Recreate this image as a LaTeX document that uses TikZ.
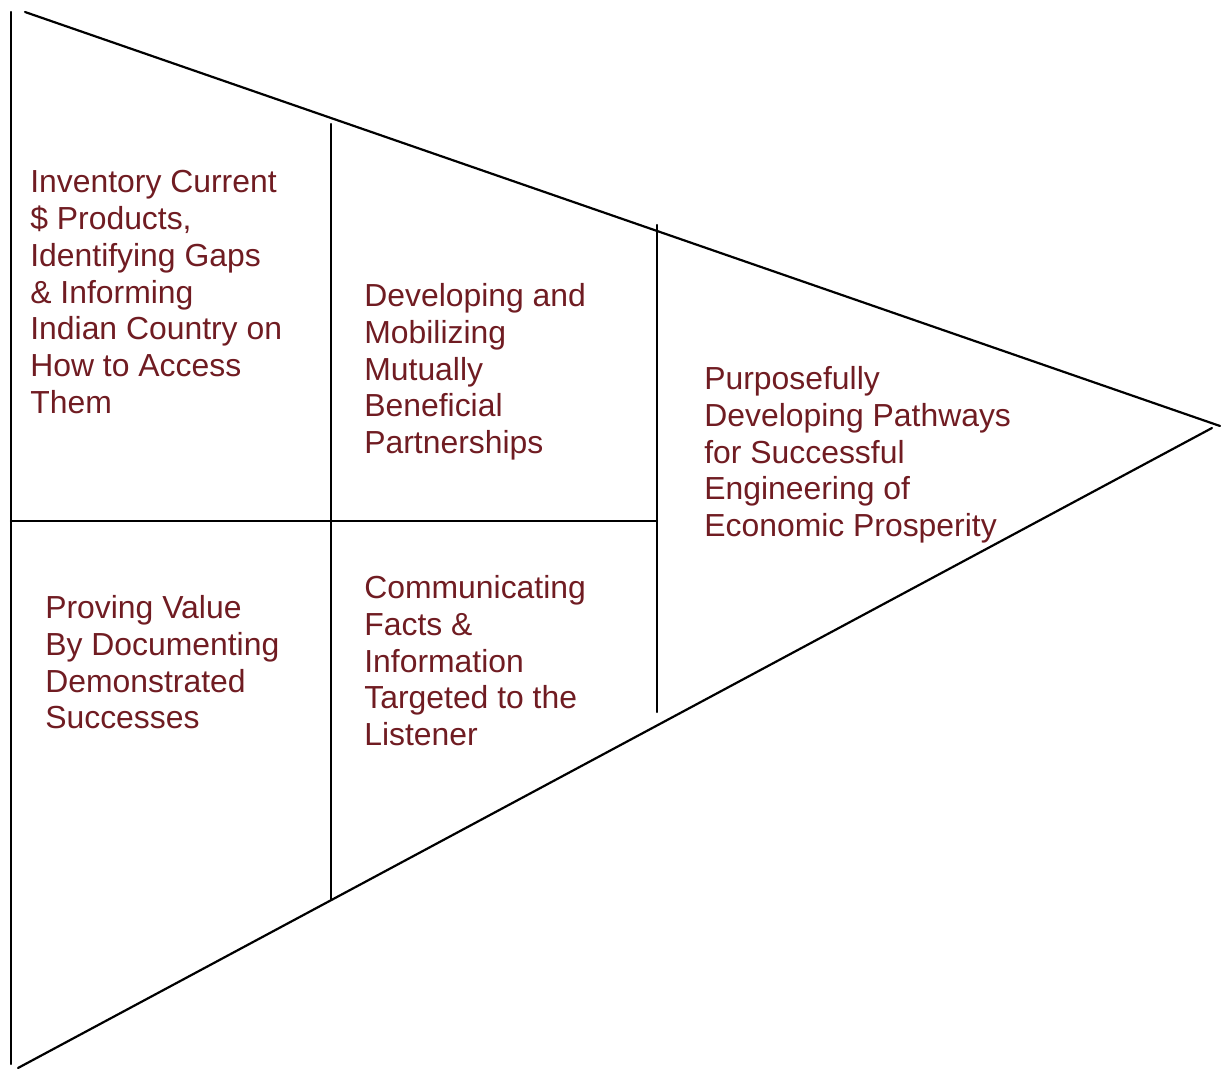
\documentclass[tikz,border=0pt]{standalone}
\usepackage{fontspec}
\setmainfont{Liberation Sans}
\definecolor{darkwine}{RGB}{112,28,34}

\begin{document}
\begin{tikzpicture}[x=0.02cm, y=-0.02cm, line cap=round, line join=round, font=\fontsize{18.15}{20.95}\selectfont]
	\tikzset{
	edge/.style={black, line width=1.25pt},
	blocktext/.style={anchor=north west, inner sep=0pt, align=left, text=darkwine}
	}
	\useasboundingbox (0,0) rectangle (1221,1070);
	% outline of the wedge
	\coordinate (leftTop) at (11,12);
	\coordinate (leftBot) at (11,1064);
	\coordinate (upStart) at (25,12);
	\coordinate (tip) at (1220,426);
	\coordinate (lowStart) at (18,1068);
	\coordinate (lowEnd) at (1212,428);
	% inner dividers
	\coordinate (divAtop) at (331,124);
	\coordinate (divAbot) at (331,900);
	\coordinate (divBtop) at (657,225);
	\coordinate (divBbot) at (657,712);
	\coordinate (midL) at (11,521);
	\coordinate (midR) at (657,521);
	\draw[edge] (leftTop) -- (leftBot);
	\draw[edge] (upStart) -- (tip);
	\draw[edge] (lowStart) -- (lowEnd);
	\draw[edge] (divAtop) -- (divAbot);
	\draw[edge] (divBtop) -- (divBbot);
	\draw[edge] (midL) -- (midR);
	% the five blocks
	\node[blocktext] (inventory) at (30,170) {Inventory Current\\\$ Products,\\Identifying Gaps\\\& Informing\\Indian Country on\\How to Access\\Them};
	\node[blocktext] (partners) at (364,283) {Developing and\\Mobilizing\\Mutually\\Beneficial\\Partnerships};
	\node[blocktext] (pathways) at (704,366) {Purposefully\\Developing Pathways\\for Successful\\Engineering of\\Economic Prosperity};
	\node[blocktext] (proving) at (45,595) {Proving Value\\By Documenting\\Demonstrated\\Successes};
	\node[blocktext] (facts) at (364,575) {Communicating\\Facts \&\\Information\\Targeted to the\\Listener};
\end{tikzpicture}
\end{document}
